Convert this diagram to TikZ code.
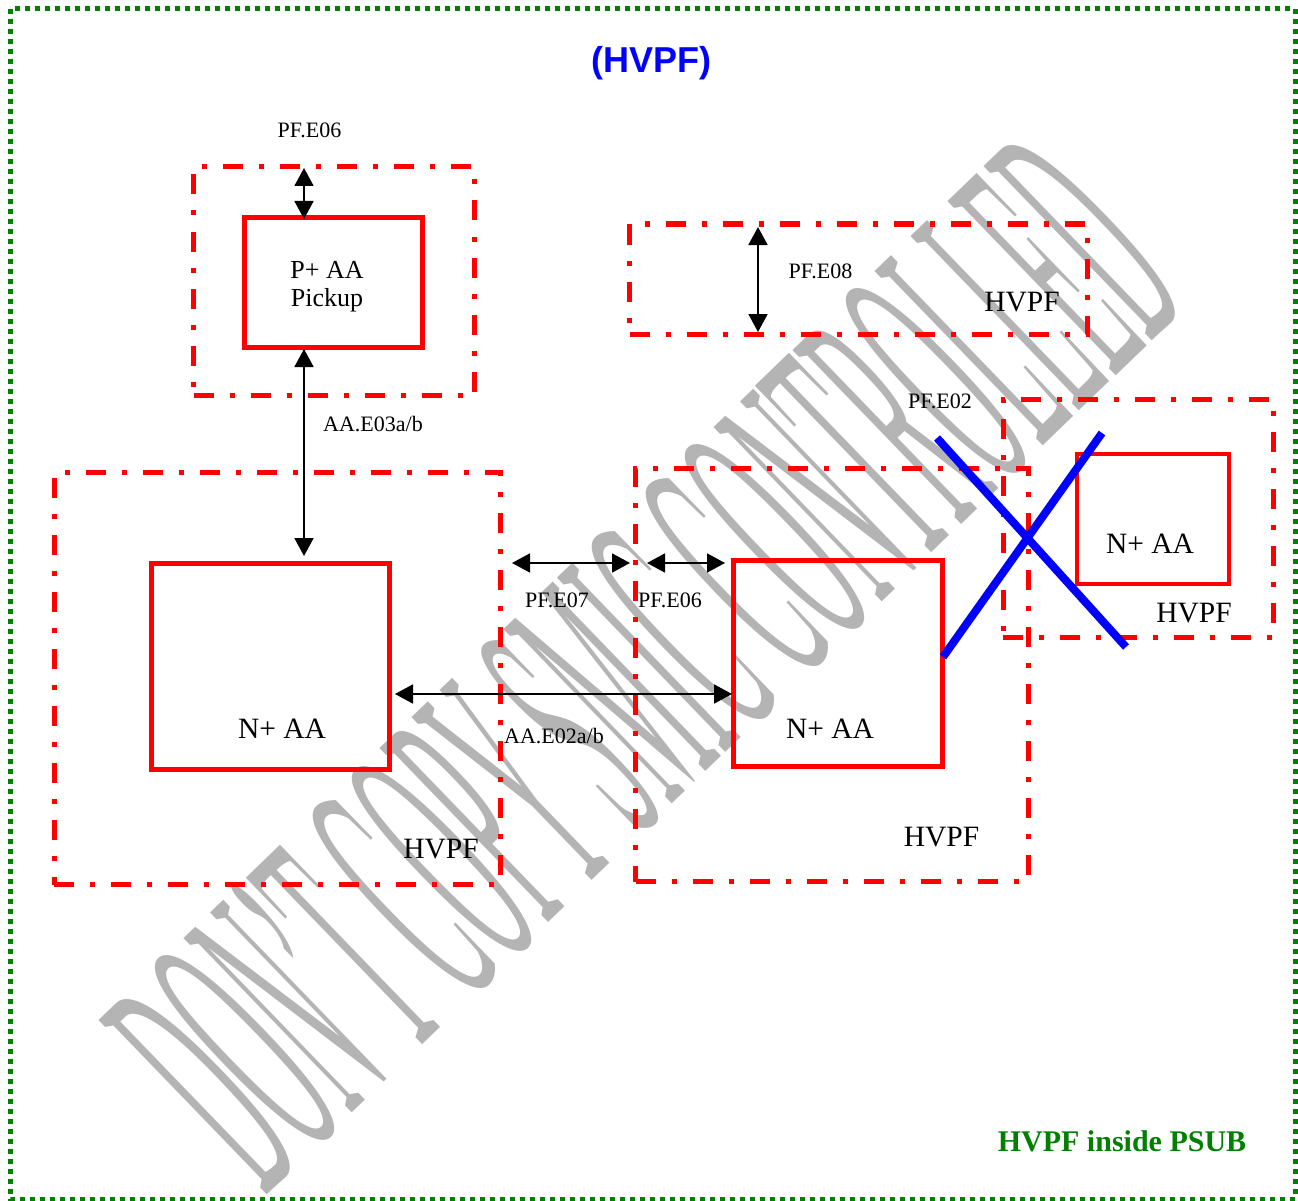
\documentclass[tikz,border=0pt]{standalone}
\usepackage{fontspec}
\setmainfont{Liberation Serif}
\newfontfamily\titlefont{Liberation Sans}
\usetikzlibrary{arrows.meta}
\definecolor{hvred}{RGB}{255,0,0}
\definecolor{hvgreen}{RGB}{0,128,0}
\definecolor{hvblue}{RGB}{0,0,255}
\definecolor{wmgray}{RGB}{180,180,180}
\begin{document}
\begin{tikzpicture}[x=1pt,y=-1pt,
  hvpf/.style={draw=hvred, line width=5pt, dash pattern=on 20pt off 16pt on 5pt off 16pt, inner sep=0pt},
  aabox/.style={draw=hvred, line width=5pt, inner sep=0pt},
  dim/.style={draw=black, line width=1.8pt, {Triangle[width=19pt,length=18pt]}-{Triangle[width=19pt,length=18pt]}},
  lbl/.style={font=\fontsize{22}{24}\selectfont, inner sep=0pt, anchor=base},
  big/.style={font=\fontsize{29.5}{32}\selectfont, inner sep=0pt, anchor=base},
  aatxt/.style={font=\fontsize{29.5}{32}\selectfont, inner sep=0pt, anchor=base},
  ptxt/.style={font=\fontsize{26}{28}\selectfont, inner sep=0pt, anchor=base},
  cross/.style={draw=hvblue, line width=8pt}
]
\useasboundingbox (0,0) rectangle (1298,1201);
% watermark
\node[text=wmgray, font=\fontsize{370}{370}\selectfont, anchor=base west, inner sep=0pt, rotate=44, xscale=0.223] (wm) at (265,1197) {DON'T COPY SMIC CONTROLLED};
% frame
\draw[hvgreen, line width=5pt, dash pattern=on 5pt off 5pt] (10,9) rectangle (1295,1199);
% titles
\node[font=\titlefont\bfseries\fontsize{36}{40}\selectfont, text=hvblue, anchor=base, inner sep=0pt] (title) at (651.5,73) {(HVPF)};
\node[font=\bfseries\fontsize{30}{34}\selectfont, text=hvgreen, anchor=base, inner sep=0pt] (foot) at (1122,1151) {HVPF inside PSUB};
% HVPF zones
\node[hvpf, minimum width=281pt, minimum height=228.5pt] (z1) at (334,281.25) {};
\node[hvpf, minimum width=457.5pt, minimum height=110.5pt] (z2) at (858.25,279.25) {};
\node[hvpf, minimum width=446.5pt, minimum height=412.5pt] (z3) at (277.25,678.25) {};
\node[hvpf, minimum width=392.5pt, minimum height=413.5pt] (z4) at (831.75,674.75) {};
\node[hvpf, minimum width=270pt, minimum height=238.5pt] (z5) at (1138,518.25) {};
% AA boxes
\node[aabox, minimum width=178pt, minimum height=130pt] (pbox) at (333.5,282.5) {};
\node[aabox, minimum width=238.5pt, minimum height=206pt] (nl) at (270.25,666) {};
\node[aabox, minimum width=209pt, minimum height=205.5pt] (nm) at (838,663.25) {};
\node[aabox, line width=4pt, minimum width=152pt, minimum height=130pt] (nr) at (1153,518.5) {};
% box texts
\node[ptxt] (tp1) at (327,278) {P+ AA};
\node[ptxt] (tp2) at (327,306) {Pickup};
\node[aatxt] (tnl) at (282,738) {N+ AA};
\node[aatxt] (tnm) at (830,738) {N+ AA};
\node[aatxt] (tnr) at (1150,553) {N+ AA};
\node[big] (h2) at (1022,311) {HVPF};
\node[big] (h3) at (441,858) {HVPF};
\node[big] (h4) at (941.5,846) {HVPF};
\node[big] (h5) at (1194,622) {HVPF};
% dimension labels
\node[lbl] (l1) at (309.5,138) {PF.E06};
\node[lbl] (l2) at (373,431) {AA.E03a/b};
\node[lbl] (l3) at (820.5,278) {PF.E08};
\node[lbl] (l4) at (940,408) {PF.E02};
\node[lbl] (l5) at (557,607) {PF.E07};
\node[lbl] (l6) at (670,607) {PF.E06};
\node[lbl] (l7) at (554,743) {AA.E02a/b};
% arrow end points
\coordinate (a1) at (304,168);
\coordinate (a2) at (304,219);
\coordinate (b1) at (304,349);
\coordinate (b2) at (304,556);
\coordinate (c1) at (758,227);
\coordinate (c2) at (758,332);
\coordinate (d1) at (512,563);
\coordinate (d2) at (630,563);
\coordinate (e1) at (647,563);
\coordinate (e2) at (725,563);
\coordinate (f1) at (395,694);
\coordinate (f2) at (732,694);
\draw[dim] (a1) -- (a2);
\draw[dim] (b1) -- (b2);
\draw[dim] (c1) -- (c2);
\draw[dim] (d1) -- (d2);
\draw[dim] (e1) -- (e2);
\draw[dim] (f1) -- (f2);
% blue cross
\coordinate (x1) at (937,438);
\coordinate (x2) at (1126,647);
\coordinate (x3) at (943,657);
\coordinate (x4) at (1102,433);
\draw[cross] (x1) -- (x2);
\draw[cross] (x3) -- (x4);
\end{tikzpicture}
\end{document}
